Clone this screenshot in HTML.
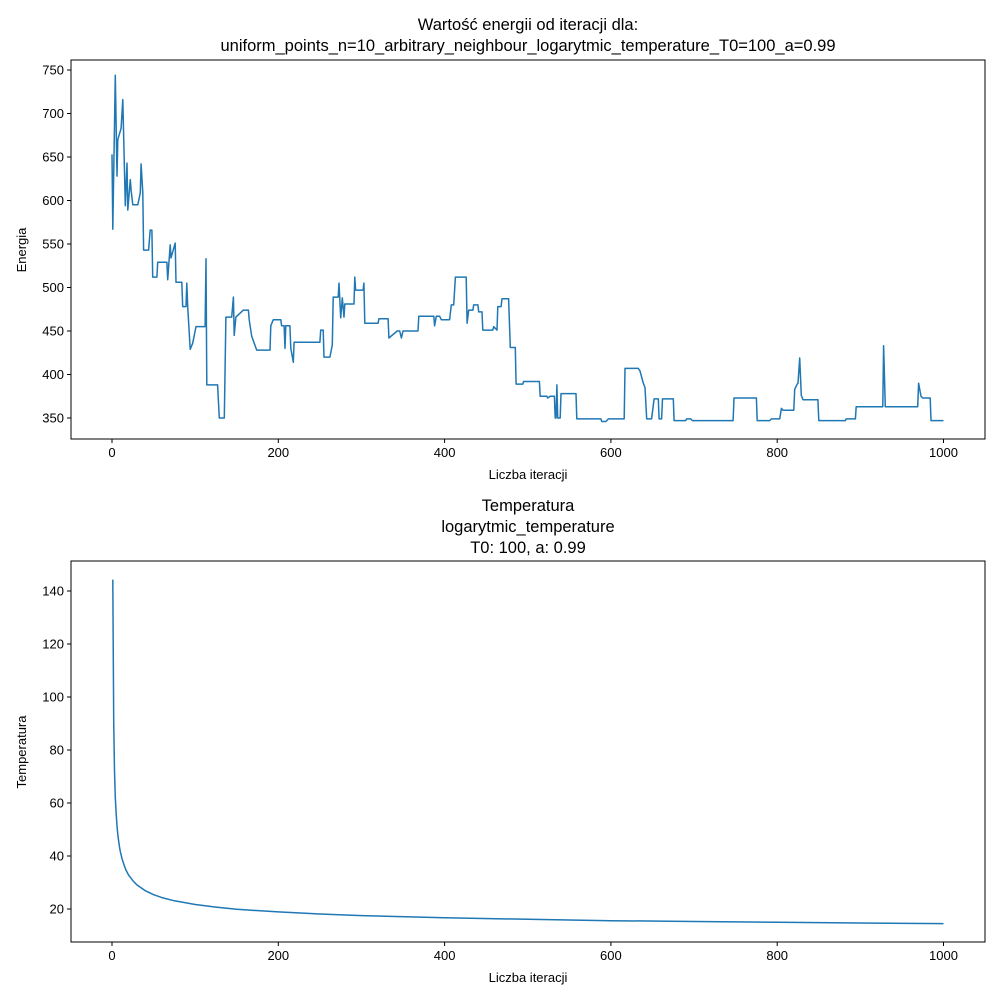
<!DOCTYPE html>
<html><head><meta charset="utf-8"><style>
body{margin:0;background:#fff}
svg{display:block;font-family:"Liberation Sans","DejaVu Sans",sans-serif}
</style></head><body>
<svg id="c" width="1000" height="1000" viewBox="0 0 1000 1000">
<rect width="1000" height="1000" fill="#fff"/>
<text x="528" y="30" font-size="16.5" text-anchor="middle">Wartość energii od iteracji dla:</text>
<text x="528" y="51" font-size="16.5" text-anchor="middle">uniform_points_n=10_arbitrary_neighbour_logarytmic_temperature_T0=100_a=0.99</text>
<text x="528" y="511" font-size="16.5" text-anchor="middle">Temperatura</text>
<text x="528" y="532" font-size="16.5" text-anchor="middle">logarytmic_temperature</text>
<text x="528" y="553" font-size="16.5" text-anchor="middle">T0: 100, a: 0.99</text>
<text x="528" y="479" font-size="13" text-anchor="middle">Liczba iteracji</text>
<text x="528" y="982" font-size="13" text-anchor="middle">Liczba iteracji</text>
<text transform="translate(26,250) rotate(-90)" font-size="13" text-anchor="middle">Energia</text>
<text transform="translate(26,752) rotate(-90)" font-size="13" text-anchor="middle">Temperatura</text>
<g id="top"></g>
<g id="bot"></g>
</svg>
<script>
const xTicks=[0,200,400,600,800,1000];
const eTicks=[350,400,450,500,550,600,650,700,750];
const tTicks=[20,40,60,80,100,120,140];
const eIter=[0,1,4,6,7,11,13,16,18,19,22,23,25,31,34,35,37,38,44,46,48,49,54,55,66,67,70,71,76,77,84,85,89,90,91,94,97,101,112,113,114,127,129,135,137,144,146,147,149,158,164,165,168,174,190,191,194,203,204,207,208,209,214,215,218,219,250,251,254,255,262,265,266,272,273,275,277,279,280,291,292,293,302,303,304,320,321,332,333,343,346,348,350,368,369,387,388,390,394,396,400,403,406,408,411,413,426,427,429,434,435,440,441,445,446,458,459,463,464,468,469,477,479,485,486,494,495,514,515,523,524,527,532,533,534,535,536,539,540,558,559,588,589,594,597,616,617,633,635,639,641,643,649,652,657,658,661,662,675,676,690,691,696,698,747,748,775,776,791,793,803,805,807,820,821,824,825,827,829,831,849,850,882,883,894,895,927,928,930,969,970,973,975,984,985,1000];
const eVal=[653,567,744,628,670,683,716,594,643,589,624,612,595,595,609,642,609,543,543,566,566,512,512,529,529,509,549,534,551,506,506,478,478,505,478,429,436,455,455,533,388,388,350,350,466,466,489,445,466,474,474,463,444,428,428,456,463,463,456,456,430,456,456,430,414,437,437,451,451,420,420,434,489,489,505,465,488,466,481,481,512,497,497,505,459,459,464,464,442,450,450,442,450,450,467,467,456,467,467,463,463,463,463,480,480,512,512,459,474,474,480,480,472,472,451,451,455,451,478,478,487,487,431,431,389,389,392,392,375,375,373,375,375,350,350,388,350,350,378,378,349,349,346,346,349,349,407,407,404,390,385,349,349,372,372,349,349,372,372,347,347,349,349,347,347,373,373,347,347,349,349,361,359,359,383,389,390,419,376,371,371,347,347,349,349,363,363,433,363,363,390,375,373,373,347,347];
const tIter=[1,2,3,4,5,6,7,8,9,10,12,15,17,20,25,30,40,50,60,75,100,125,150,200,250,300,400,500,600,700,800,900,1000];
const tVal=[144.3,91.0,72.1,62.1,55.8,51.4,48.1,45.5,43.4,41.7,39.0,36.1,34.6,32.8,30.7,29.1,26.9,25.4,24.3,23.1,21.7,20.7,19.9,18.9,18.1,17.5,16.7,16.1,15.6,15.3,15.0,14.7,14.5];
const NS="http://www.w3.org/2000/svg";
function mk(p,tag,at){const e=document.createElementNS(NS,tag);for(const k in at)e.setAttribute(k,at[k]);p.appendChild(e);return e;}
const X=v=>112+v*0.8315;
function panel(g,top,bot,yScale,ticks,it,vals,nm){
  mk(g,'rect',{x:71,y:top,width:914,height:bot-top,fill:'none',stroke:'#000','stroke-width':1});
  xTicks.forEach(t=>{
    const l=mk(g,'line',{x1:X(t),x2:X(t),y1:bot,y2:bot+4,stroke:'#000'});
    
    
    const tx=mk(g,'text',{x:X(t),y:bot+18,'font-size':13,'text-anchor':'middle'});tx.textContent=t;
    
    
  });
  ticks.forEach(t=>{
    const y=yScale(t);
    const l=mk(g,'line',{x1:67,x2:71,y1:y,y2:y,stroke:'#000'});
    
    
    const tx=mk(g,'text',{x:64,y:y+4.5,'font-size':13,'text-anchor':'end'});tx.textContent=t;
    
    
  });
  const pts=it.map((v,i)=>X(v).toFixed(1)+','+yScale(vals[i]).toFixed(1)).join(' ');
  const pl=mk(g,'polyline',{points:pts,fill:'none',stroke:'#1f77b4','stroke-width':1.5,'stroke-linejoin':'round'});
  
  
}
panel(document.getElementById('top'),60,439,v=>70+(750-v)*0.87,eTicks,eIter,eVal,'energy-line');
panel(document.getElementById('bot'),561,942,v=>909-(v-20)*2.65,tTicks,tIter,tVal,'temperature-line');
</script>
</body></html>
